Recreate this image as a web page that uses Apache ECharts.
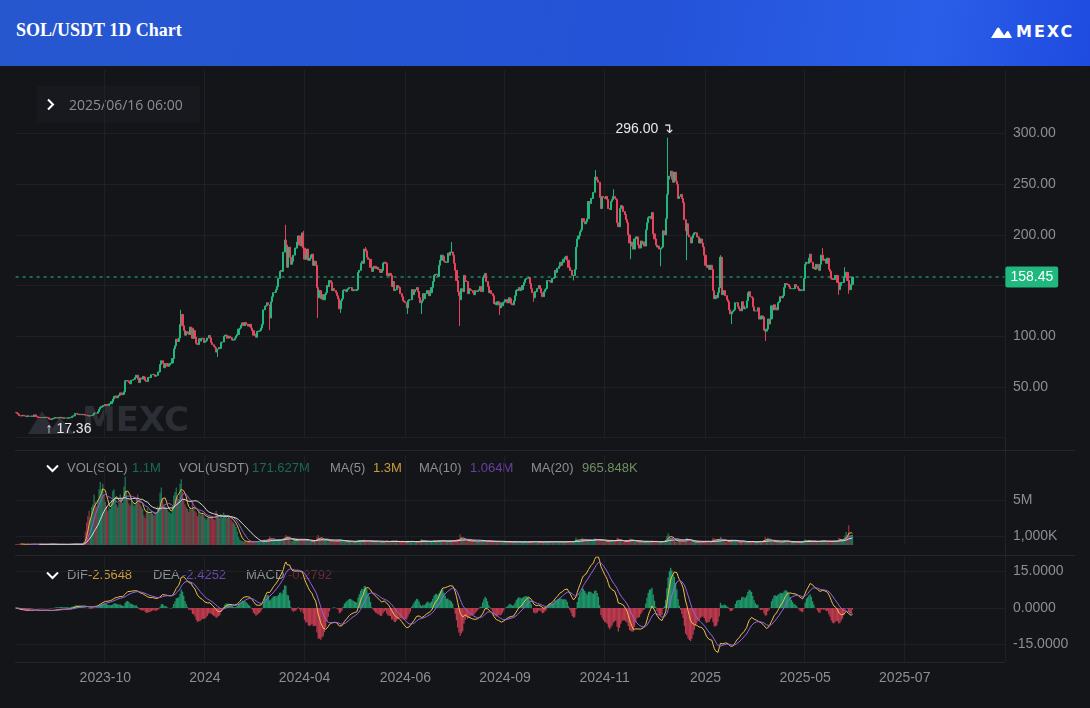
<!DOCTYPE html>
<html><head><meta charset="utf-8">
<script src="https://cdn.jsdelivr.net/npm/echarts@6/dist/echarts.min.js"></script>
<style>
html,body{margin:0;padding:0;background:#141519;width:1090px;height:708px;overflow:hidden}
#chart{position:absolute;left:0;top:0;width:1090px;height:708px}
#hdr{position:absolute;left:0;top:0;width:1090px;height:66px;z-index:2;
 background:linear-gradient(100deg,#2757cf 0%,#2453d8 60%,#2a5ee8 85%,#1f4be0 100%)}
#title{position:absolute;left:16px;top:20px;color:#fff;font:bold 18px "Liberation Serif",serif}
#logo{position:absolute;left:991px;top:22px;color:#fff;font:bold 16px "DejaVu Sans",sans-serif;letter-spacing:2px;display:flex;align-items:center}
#logo svg{margin-right:4px}
</style></head>
<body>
<div id="chart"></div>
<div id="hdr"><div id="title">SOL/USDT 1D Chart</div>
<div id="logo"><svg width="21" height="12" viewBox="0 0 21 12"><path d="M0 12 L6 2.2 Q7.2 0.6 8.4 2.2 L13.2 9.6 L15.6 5.8 Q16.7 4.4 17.8 5.8 L21 12 Z" fill="#fff"/></svg><span>MEXC</span></div></div>
<script>
// ---------------- DATA (daily closes, SOL/USDT, from 2023-08-14) ----------------
const firstOpen = 24.9;
const c2023_08 = [24.6,23.9,23.0,21.5,21.3,21.6,21.9,21.2,20.6,21.4,20.9,21.0,21.0,21.1,20.7,22.3,20.9,20.3];
const c2023_09 = [19.9,19.8,19.7,19.6,19.7,19.7,20.0,19.6,19.4,18.3,17.8,18.4,18.8,19.3,19.6,19.5,19.2,19.4,19.9,19.5,19.1,19.2,19.3,19.1,19.4,19.2,19.6,21.0,21.3,21.4];
const c2023_10 = [23.8,23.1,22.7,23.0,22.4,22.9,22.6,22.7,22.0,21.9,21.5,21.2,21.5,21.9,22.4,24.2,24.1,24.0,25.5,27.9,29.8,30.5,31.7,31.4,32.6,31.7,31.5,33.2,33.3,35.4,38.0];
const c2023_11 = [40.5,41.0,39.2,40.9,41.8,44.0,42.3,42.6,45.2,56.0,56.2,55.5,54.3,53.0,56.6,57.0,57.6,59.2,61.6,57.5,54.2,58.8,57.6,60.3,59.5,56.4,55.2,59.2,59.5,59.1];
const c2023_12 = [62.0,62.3,61.9,60.4,61.3,64.6,64.8,72.0,75.8,73.4,68.9,71.6,73.0,70.4,71.5,73.2,73.5,78.0,87.5,90.5,97.0,94.8,98.3,111.5,121.5,110.3,105.6,101.0,104.4,102.8,101.6];
const c2024_01 = [109.0,107.9,97.9,105.5,99.2,93.0,91.7,97.6,95.2,97.4,98.0,93.9,94.8,95.6,98.2,100.8,98.3,93.9,91.6,89.9,88.6,84.3,87.3,88.8,88.0,93.9,94.3,100.0,101.0,101.0,98.0];
const c2024_02 = [100.0,99.0,98.5,96.2,96.4,98.3,100.2,101.7,107.0,108.1,110.8,113.2,110.5,113.6,112.0,111.7,109.9,111.7,108.0,105.5,101.0,102.0,99.0,104.7,105.0,105.7,108.0,111.7,126.0];
const c2024_03 = [129.5,130.2,133.0,131.0,118.0,134.0,139.0,143.0,143.5,146.0,149.0,157.0,164.0,165.0,164.0,183.0,195.0,190.0,168.0,188.0,178.0,171.0,174.0,180.0,187.0,187.0,193.0,199.0,190.0,189.0,202.0];
const c2024_04 = [187,176,180,186,175,177,180,181,170,174,170,148,138,145,137,141,136,141,143,150,149,155,153,145,147,145,143,140,137,127];
const c2024_05 = [135,137,145,146,144,146,147,148,148,145,145,146,145,146,163,165,172,174,172,186,184,178,176,176,168,164,168,169,167,168,166];
const c2024_06 = [166,163,165,172,173,172,160,160,162,160,149,154,145,146,150,149,148,142,139,135,134,133,128,135,136,136,146,141,144,146];
const c2024_07 = [148,144,138,133,135,142,137,142,145,145,140,143,148,154,160,161,161,159,170,175,180,179,174,173,173,182,180,183,183,180,172];
const c2024_08 = [165,155,144,140,136,147,144,160,155,154,142,147,146,145,143,141,145,144,145,146,149,144,158,160,162,154,149,143,145,142,140];
const c2024_09 = [132,133,131,134,133,128,130,133,134,136,136,133,138,137,132,131,135,140,145,146,148,145,146,150,153,156,157,157,158,152];
const c2024_10 = [147,143,138,144,144,147,150,147,143,139,144,146,147,155,155,154,153,157,158,165,163,167,169,173,170,173,176,178,179,175,168];
const c2024_11 = [165,165,160,160,166,188,196,199,203,205,216,213,211,213,216,233,231,236,236,242,257,257,254,252,237,226,238,237,236,238];
const c2024_12 = [235,226,225,233,235,238,236,235,212,208,226,229,228,223,220,215,212,200,192,193,189,186,196,198,198,190,187,194,191,193,189];
const c2025_01 = [205,212,217,218,216,222,201,196,190,188,189,186,187,188,204,200,216,240,255,258,263,255,252,262,253,250,236,238,240,236,232];
const c2025_02 = [215,204,211,200,198,192,197,200,202,202,198,198,192,196,192,188,180,170,168,170,166,170,166,145,137,140,138,143];
const c2025_03 = [148,178,141,144,145,140,136,134,126,122,124,125,126,133,133,129,127,125,134,130,127,128,135,143,144,139,138,129,125,125,125];
const c2025_04 = [128,117,117,120,119,106,105,107,117,112,117,130,126,131,128,126,133,134,139,138,140,148,152,151,151,149,147,147,147,147];
const c2025_05 = [151,149,147,145,145,146,145,157,171,173,172,177,181,173,167,168,166,171,167,165,171,180,175,175,176,172,177,166,164,157,156];
const c2025_06 = [156,160,160,153,146,150,153,153,158,163,163,155,146,146,151,158.45];

// wick extremes
const highDates = ['2023-12-25','2024-03-18','2024-04-01','2024-05-21','2024-07-29','2024-11-22','2024-12-06','2025-01-19','2025-03-02','2025-05-23','2025-06-10'];
const highVals  = [126,210,204,188,193,264,245,296,180,187,168];
const lowDates  = ['2023-09-11','2024-01-23','2024-03-05','2024-04-13','2024-05-01','2024-06-24','2024-07-05','2024-08-05','2024-09-06','2024-10-03','2024-11-04','2024-12-20','2025-01-13','2025-02-03','2025-03-11','2025-04-07','2025-06-05','2025-06-13'];
const lowVals   = [17.36,79.5,106,118,123,122,122,110,121,134,155,176,169,175,112,95.3,141,142];

// daily volume, units of 10,000 SOL
const v2023_08 = [9,10,12,16,10,8,7,9,8,6,6,7,8,13,10,9,8,7];
const v2023_09 = [7,6,6,7,7,8,9,8,7,10,12,10,9,8,7,6,6,7,8,7,7,6,6,6,7,7,8,13,11,10];
const v2023_10 = [12,10,9,9,9,8,8,40,150,250,320,380,300,420,450,560,480,430,500,620,700,620,680,560,480,430,380,420,400,500,600];
const v2023_11 = [620,520,450,420,470,560,520,470,650,760,600,520,460,440,490,470,430,450,520,560,480,450,430,400,330,300,380,410,360,350];
const v2023_12 = [380,350,330,340,350,430,410,580,640,520,450,430,410,390,370,360,350,430,550,590,640,530,510,680,730,590,500,450,420,400,370];
const v2024_01 = [420,390,480,420,380,360,320,380,350,330,360,340,300,280,300,320,300,320,300,290,280,380,350,320,300,310,300,360,340,320,300];
const v2024_02 = [320,300,280,260,250,230,200,150,90,60,50,45,40,40,35,35,35,40,35,35,40,40,35,40,45,40,40,45,60];
const v2024_03 = [60,55,50,55,95,75,60,55,45,50,55,60,65,55,60,75,85,110,95,75,65,50,45,50,55,50,55,60,55,45,50];
const v2024_04 = [55,60,50,50,45,40,40,45,50,45,50,85,110,75,65,60,65,55,60,50,40,45,45,50,45,40,35,40,50,60];
const v2024_05 = [55,45,45,35,35,40,40,35,40,40,30,30,40,40,60,55,50,45,40,60,55,50,45,40,40,35,35,40,40,40,35];
const v2024_06 = [35,30,35,40,40,35,50,40,30,35,50,50,45,40,35,30,35,45,40,35,30,30,35,50,40,35,45,40,30,30];
const v2024_07 = [40,35,45,50,65,45,35,45,40,35,40,35,40,45,55,45,40,40,50,55,50,45,45,40,45,45,40,45,50,45,45];
const v2024_08 = [55,60,60,55,120,85,60,65,50,40,45,50,45,40,45,40,30,35,40,40,45,40,55,45,40,45,45,50,40,40,35];
const v2024_09 = [40,40,35,40,35,45,35,30,35,35,35,35,35,30,30,35,35,40,40,35,35,30,35,35,40,35,35,30,30,35];
const v2024_10 = [45,40,45,35,30,30,35,35,35,35,35,35,30,40,40,35,35,35,35,40,40,35,35,35,40,30,30,35,40,40,40];
const v2024_11 = [40,35,35,40,45,80,60,50,45,50,80,70,60,55,50,60,50,50,45,55,75,70,50,45,60,60,50,40,35,35];
const v2024_12 = [40,45,45,45,50,55,40,35,80,75,50,45,40,35,35,40,40,50,70,70,45,40,45,35,30,35,40,35,30,35,35];
const v2025_01 = [35,40,40,30,30,40,50,40,40,35,30,30,45,40,45,40,55,100,130,105,80,70,55,50,40,35,55,45,40,40,35];
const v2025_02 = [45,60,80,50,40,40,35,30,30,35,35,35,35,35,30,30,40,50,40,40,35,35,35,80,75,55,50,45];
const v2025_03 = [45,90,80,50,45,40,40,35,45,55,50,45,40,40,30,30,35,35,45,40,35,30,30,40,40,35,35,40,30,30,35];
const v2025_04 = [40,45,45,40,35,55,90,60,80,50,40,45,35,40,35,35,35,30,30,30,35,50,50,40,35,30,30,35,35,35];
const v2025_05 = [40,35,30,30,35,35,35,50,60,50,40,45,50,45,40,40,35,40,40,35,45,50,50,40,35,35,40,45,40,45,40];
const v2025_06 = [40,45,50,45,80,70,55,50,60,105,144,110,220,100,110,110];

// x-axis tick labels (category index -> label)
const xTickIdx = [72,152,232,313,393,473,554,634,714];
const xTickLabels = ['2023-10','2024','2024-04','2024-06','2024-09','2024-11','2025','2025-05','2025-07'];
// price axis ticks / labels
const priceGridValues = [0,50,100,150,200,250,300];
const priceLabelValues = [50,100,200,250,300];

// header / legend texts (text, colour key, x)
const crossText = '2025/06/16 06:00';
const volLegend = [['VOL(SOL)','g',67],['1.1M','vs',132],['VOL(USDT)','g',179],['171.627M','vs',252],['MA(5)','g',330],['1.3M','m5',373],['MA(10)','g',419],['1.064M','m10',470],['MA(20)','g',531],['965.848K','m20',582]];
const macdLegend = [['DIF','g',67],['-2.5648','dif',88],['DEA','g',153],['-2.4252','dea',182],['MACD','g',246],['-0.2792','mv',288]];

// ---------------- BUILD ----------------
const closes = [].concat(c2023_08,c2023_09,c2023_10,c2023_11,c2023_12,c2024_01,c2024_02,c2024_03,c2024_04,c2024_05,c2024_06,c2024_07,c2024_08,c2024_09,c2024_10,c2024_11,c2024_12,c2025_01,c2025_02,c2025_03,c2025_04,c2025_05,c2025_06);
const vols10k = [].concat(v2023_08,v2023_09,v2023_10,v2023_11,v2023_12,v2024_01,v2024_02,v2024_03,v2024_04,v2024_05,v2024_06,v2024_07,v2024_08,v2024_09,v2024_10,v2024_11,v2024_12,v2025_01,v2025_02,v2025_03,v2025_04,v2025_05,v2025_06);
const N_SLOTS = 795;
const start = Date.UTC(2023,7,14);
const cats = [];
for (let i=0;i<N_SLOTS;i++) cats.push(new Date(start+i*86400000).toISOString().slice(0,10));
const hiMap = {}; highDates.forEach((d,i)=>hiMap[d]=highVals[i]);
const loMap = {}; lowDates.forEach((d,i)=>loMap[d]=lowVals[i]);

const UP='#22b67e', DN='#e8435d';
const ohlc=[], up=[];
let prev=firstOpen;
closes.forEach((c,i)=>{
  const o=prev; let hi=Math.max(o,c), lo=Math.min(o,c);
  if(hiMap[cats[i]]!=null) hi=hiMap[cats[i]];
  if(loMap[cats[i]]!=null) lo=loMap[cats[i]];
  ohlc.push([o,c,lo,hi]); up.push(c>=o); prev=c;
});
let maxIdx=0,minIdx=0;
ohlc.forEach((d,i)=>{ if(d[3]>ohlc[maxIdx][3]) maxIdx=i; if(d[2]<ohlc[minIdx][2]) minIdx=i; });

const vols = vols10k.map(v=>v/100);
function ma(arr,n){ return arr.map((v,i)=>{ if(i<n-1) return null; let s=0; for(let k=i-n+1;k<=i;k++) s+=arr[k]; return s/n; }); }
const ma5=ma(vols,5), ma10=ma(vols,10), ma20=ma(vols,20);

// MACD(12,26,9)
const dif=[],dea=[],hist=[];
let e12=closes[0], e26=closes[0], d9=0;
closes.forEach((c,i)=>{
  e12 = i? (2*c+11*e12)/13 : c;
  e26 = i? (2*c+25*e26)/27 : c;
  const df=e12-e26; d9 = i? (2*df+8*d9)/10 : df;
  dif.push(df); dea.push(d9); hist.push(2*(df-d9));
});

const tickSet = new Set(xTickIdx);
const labMap = {}; xTickIdx.forEach((k,i)=>labMap[k]=xTickLabels[i]);
const GRID='#1e2026', LAB='#8b8e95';
const FONT='"Liberation Sans", Arial, sans-serif';

function xAxis(g, showLabel){
  return {type:'category', gridIndex:g, data:cats, boundaryGap:true,
    axisLine:{show:false}, axisTick:{show:false},
    axisLabel:{show:showLabel, color:LAB, fontSize:14, fontFamily:FONT, margin:9,
      interval:(i)=>tickSet.has(i), formatter:(v,i)=>labMap[i]||''},
    splitLine:{show:true, interval:(i)=>tickSet.has(i), lineStyle:{color:GRID,width:1}}};
}

const chart = echarts.init(document.getElementById('chart'), null, {renderer:'canvas'});

const legendTextColors = {g:'#8b8e95', vs:'#1b6b4f', m5:'#c99c3b', m10:'#6b3f9e', m20:'#6f8f62', dif:'#c99c3b', dea:'#6b49ad', mv:'#6b2a37'};
function legendGraphic(items, yc){
  return items.map(it=>({type:'text', left:it[2], top:yc-8, silent:true, style:{text:it[0], fill:legendTextColors[it[1]], font:'13px '+FONT}}));
}

const last = closes[closes.length-1];

const graphics = [
  {type:'line', silent:true, shape:{x1:15,y1:450.5,x2:1075,y2:450.5}, style:{stroke:'#24262c',lineWidth:1}},
  {type:'line', silent:true, shape:{x1:15,y1:555.5,x2:1075,y2:555.5}, style:{stroke:'#24262c',lineWidth:1}},
  {type:'line', silent:true, shape:{x1:15,y1:662.5,x2:1005,y2:662.5}, style:{stroke:'#24262c',lineWidth:1}},
  {type:'line', silent:true, shape:{x1:1005.5,y1:70,x2:1005.5,y2:662}, style:{stroke:'#24262c',lineWidth:1}},
  {type:'rect', silent:true, shape:{x:37,y:86,width:163,height:37}, style:{fill:'#18191e'}},
  {type:'polyline', silent:true, shape:{points:[[48,99.5],[53,104.5],[48,109.5]]}, style:{stroke:'#ffffff',lineWidth:2,fill:null}},
  {type:'text', silent:true, left:69, top:99, style:{text:crossText, fill:'#8b8e95', font:'14px "Open Sans", sans-serif'}},
  {type:'polyline', silent:true, shape:{points:[[47,465.5],[52.5,471],[58,465.5]]}, style:{stroke:'#ffffff',lineWidth:2,fill:null}},
  {type:'polyline', silent:true, shape:{points:[[47,572.5],[52.5,578],[58,572.5]]}, style:{stroke:'#ffffff',lineWidth:2,fill:null}},
  {type:'polygon', silent:true, shape:{points:[[28,434],[42,411],[56,434]]}, style:{fill:'#2c2e35'}},
  {type:'polygon', silent:true, shape:{points:[[48,434],[60,417],[74,434]]}, style:{fill:'#2c2e35'}},
  {type:'text', silent:true, left:82, top:405, style:{text:'MEXC', fill:'#2c2e35', font:'bold 34px "DejaVu Sans", sans-serif'}},
].concat(legendGraphic(volLegend,470), legendGraphic(macdLegend,577));

chart.setOption({
  animation:false,
  backgroundColor:'#141519',
  grid:[
    {left:15, right:85, top:70, height:367.5},
    {left:15, right:85, top:455, height:90},
    {left:15, right:85, top:557, height:105}
  ],
  xAxis:[xAxis(0,false), xAxis(1,false), xAxis(2,true)],
  yAxis:[
    {type:'value', gridIndex:0, position:'right', min:0, max:362.8,
      axisLine:{show:false}, axisTick:{show:false, customValues:priceGridValues},
      axisLabel:{color:LAB, fontSize:14, fontFamily:FONT, margin:8, customValues:priceLabelValues, formatter:v=>v.toFixed(2)},
      splitLine:{show:true, lineStyle:{color:GRID}}},
    {type:'value', gridIndex:1, position:'right', min:0, max:10,
      axisLine:{show:false}, axisTick:{show:false, customValues:[1,5]},
      axisLabel:{color:LAB, fontSize:14, fontFamily:FONT, margin:8, customValues:[1,5], formatter:v=>v===1?'1,000K':(v+'M')},
      splitLine:{show:true, lineStyle:{color:GRID}}},
    {type:'value', gridIndex:2, position:'right', min:-22.19, max:20.96,
      axisLine:{show:false}, axisTick:{show:false, customValues:[-15,0,15]},
      axisLabel:{color:LAB, fontSize:14, fontFamily:FONT, margin:8, customValues:[-15,0,15], formatter:v=>v.toFixed(4)},
      splitLine:{show:true, lineStyle:{color:GRID}}}
  ],
  graphic: graphics,
  series:[
    // last-price line across the pane, drawn from the last close
    {type:'line', xAxisIndex:0, yAxisIndex:0, symbol:'none', silent:true, z:1,
      data:[[cats[0], last], [cats[N_SLOTS-1], last]],
      lineStyle:{color:'#1fc488', type:[3,4], width:1},
      endLabel:{show:true, distance:1, formatter:()=>last.toFixed(2), color:'#fff', backgroundColor:'#1fb87d',
        padding:[4,5,3,5], borderRadius:2, fontSize:14, fontFamily:FONT}},
    {type:'candlestick', xAxisIndex:0, yAxisIndex:0, data:ohlc, barWidth:1.6, large:false, z:2,
      itemStyle:{color:UP, color0:DN, borderColor:UP, borderColor0:DN, borderWidth:1},
      markPoint:{silent:true, animation:false, data:[
        {coord:[maxIdx, ohlc[maxIdx][3]], symbol:'circle', symbolSize:2, itemStyle:{color:'rgba(0,0,0,0)'},
          label:{show:true, position:'left', distance:0, offset:[7,-9], color:'#e8e8e8', fontSize:14, fontFamily:FONT,
            formatter:ohlc[maxIdx][3].toFixed(2)+' ↴'}},
        {coord:[minIdx, ohlc[minIdx][2]], symbol:'circle', symbolSize:2, itemStyle:{color:'rgba(0,0,0,0)'},
          label:{show:true, position:'right', distance:0, offset:[-6,9], color:'#e8e8e8', fontSize:14, fontFamily:FONT,
            formatter:'↑ '+ohlc[minIdx][2].toFixed(2)}}
      ]}
    },
    {type:'bar', xAxisIndex:1, yAxisIndex:1, barWidth:1.3, large:false,
      data:vols.map((v,i)=>({value:v, itemStyle:{color:up[i]?UP:DN, opacity:0.6}}))},
    {type:'line', xAxisIndex:1, yAxisIndex:1, data:ma5, symbol:'none', lineStyle:{color:'#e9b640',width:1}},
    {type:'line', xAxisIndex:1, yAxisIndex:1, data:ma10, symbol:'none', lineStyle:{color:'#8f5fd8',width:1}},
    {type:'line', xAxisIndex:1, yAxisIndex:1, data:ma20, symbol:'none', lineStyle:{color:'#d8dcd0',width:1}},
    {type:'bar', xAxisIndex:2, yAxisIndex:2, barWidth:1.3, large:false,
      data:hist.map(v=>({value:v, itemStyle:{color:v>=0?UP:DN, opacity:0.8}}))},
    {type:'line', xAxisIndex:2, yAxisIndex:2, data:dif, symbol:'none', lineStyle:{color:'#f0c04a',width:1}},
    {type:'line', xAxisIndex:2, yAxisIndex:2, data:dea, symbol:'none', lineStyle:{color:'#9466e0',width:1}}
  ]
});
</script>
</body></html>
